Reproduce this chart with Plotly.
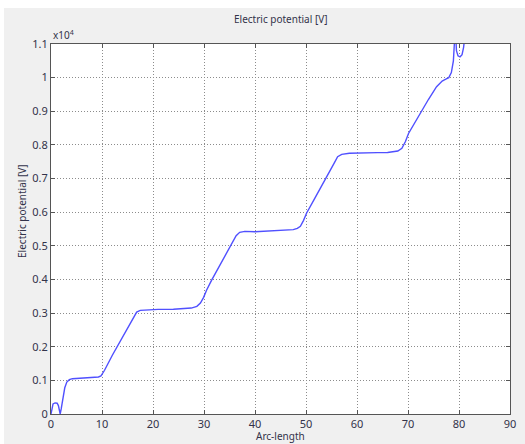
import plotly.graph_objects as go

# Arc-length positions and electric potential (V)
arc_length = [0, 0.15, 0.4, 0.8, 1.2, 1.45, 1.65, 1.8, 2.0, 2.3, 2.7, 3.1, 3.6, 4.2, 5,
              6.3, 7.5, 8.5, 9.3, 9.8, 10.5, 12, 13.5, 15, 16.2, 16.8, 17.5, 19, 21, 24,
              26, 27.5, 28.6, 29.3, 29.9, 30.5, 31.5, 33, 34.5, 35.5, 36.3, 37, 38, 40,
              43, 46, 47.5, 48.3, 48.9, 49.5, 50.1, 51.5, 53, 54.5, 55.5, 56.2, 57, 58.5,
              60, 62, 64, 66, 67.2, 68, 68.8, 69.5, 70.1, 71, 72.4, 74, 75.6, 76.7, 77.5,
              78, 78.5, 78.9, 79.2, 79.35, 79.5, 79.8, 80.2, 80.6, 80.9, 81.2]
potential = [0, 150, 300, 330, 320, 250, 80, 0, 150, 450, 780, 950, 1020, 1050, 1060,
             1065, 1080, 1090, 1100, 1130, 1300, 1740, 2140, 2540, 2900, 3030, 3080, 3100, 3110, 3115,
             3125, 3150, 3200, 3300, 3460, 3680, 3980, 4400, 4800, 5080, 5300, 5400, 5430, 5420,
             5440, 5460, 5480, 5520, 5580, 5750, 5970, 6350, 6750, 7150, 7450, 7650, 7720, 7750,
             7760, 7765, 7770, 7775, 7790, 7820, 7900, 8100, 8340, 8580, 8940, 9350, 9730, 9900, 9960,
             10000, 10150, 10500, 11300, 11300, 10800, 10650, 10620, 10680, 10900, 11300]

x_ticks = [0, 10, 20, 30, 40, 50, 60, 70, 80, 90]
y_tickvals = [0, 1000, 2000, 3000, 4000, 5000, 6000, 7000, 8000, 9000, 10000, 11000]
y_ticktext = ["0", "0.1", "0.2", "0.3", "0.4", "0.5", "0.6", "0.7", "0.8", "0.9", "1", "1.1"]

FONT = "Noto Sans"
TXT = "#33334a"

fig = go.Figure()
fig.add_trace(go.Scatter(x=arc_length, y=potential, mode="lines",
                         line=dict(color="#5050ff", width=1.4), showlegend=False))

axis_common = dict(showline=True, linecolor="#555555", linewidth=1, mirror="ticks",
                   ticks="inside", ticklen=4, tickcolor="#555555",
                   showgrid=True, gridcolor="#8c8c8c", griddash="1px,2px", gridwidth=1,
                   zeroline=False, tickfont=dict(family=FONT, size=11, color=TXT))

fig.update_xaxes(range=[0, 90], tickvals=x_ticks, **axis_common)
fig.update_yaxes(range=[0, 11000], tickvals=y_tickvals, ticktext=y_ticktext, **axis_common)

fig.update_layout(
    width=525, height=444,
    margin=dict(l=51, r=15, t=44, b=30, autoexpand=False),
    paper_bgcolor="#f0f0f0", plot_bgcolor="white",
    shapes=[
        dict(type="rect", xref="paper", yref="paper", x0=-0.2, x1=1.2, y0=1.0973, y1=1.3,
             fillcolor="white", line=dict(width=0), layer="below"),
        dict(type="rect", xref="paper", yref="paper", x0=-0.2, x1=-0.1024, y0=-0.2, y1=1.3,
             fillcolor="white", line=dict(width=0), layer="below"),
    ],
    annotations=[
        dict(text="Electric potential [V]", xref="paper", yref="paper", x=0.5, y=1.0676,
             xanchor="center", yanchor="middle", showarrow=False,
             font=dict(family=FONT, size=10, color=TXT)),
        dict(text="x10<sup>4</sup>", xref="paper", yref="paper", x=0.0, y=1.0,
             xanchor="left", yanchor="bottom", showarrow=False,
             font=dict(family=FONT, size=10, color=TXT)),
        dict(text="Electric potential [V]", xref="paper", yref="paper", x=-0.063, y=0.549,
             xanchor="center", yanchor="middle", textangle=-90, showarrow=False,
             font=dict(family=FONT, size=10, color=TXT)),
        dict(text="Arc-length", xref="paper", yref="paper", x=0.5, y=-0.0595,
             xanchor="center", yanchor="middle", showarrow=False,
             font=dict(family=FONT, size=10, color=TXT)),
    ],
)

fig.write_html("out.html")
